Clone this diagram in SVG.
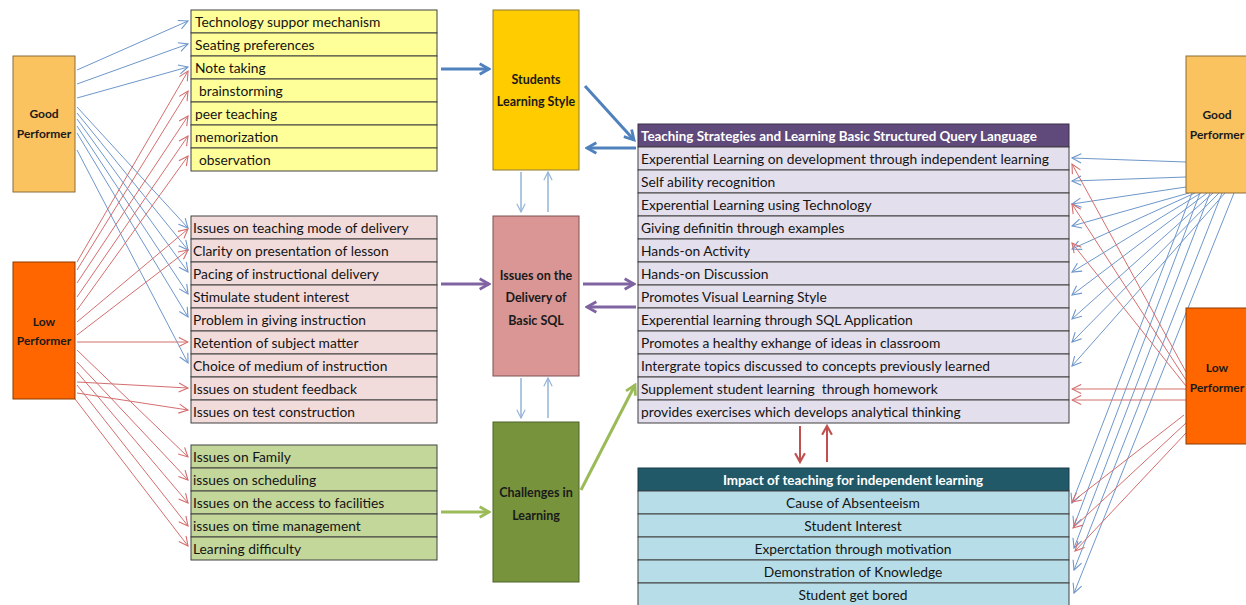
<svg xmlns="http://www.w3.org/2000/svg" width="1246" height="605" viewBox="0 0 1246 605">
  <style>
    .cell { stroke: #404040; stroke-width: 1; }
    .yl { fill: #FFFF99; }
    .pk { fill: #F2DCDB; }
    .gr { fill: #C4D79B; }
    .lv { fill: #E4DFEC; }
    .lb { fill: #B7DEE8; }
    .t { font-family: Lato, "Open Sans", sans-serif; font-size: 13.8px; fill: #141414; }
    .tc { text-anchor: middle; }
    .hd { font-family: Lato, "Open Sans", sans-serif; font-size: 13.4px; font-weight: bold; fill: #ffffff; }
    .bx { font-family: Lato, "Open Sans", sans-serif; font-size: 12.5px; font-weight: bold; fill: #1a1a1a; text-anchor: middle; }
    .pf { font-family: Lato, "Open Sans", sans-serif; font-size: 12px; font-weight: bold; fill: #1a1a1a; text-anchor: middle; }
    .thinB { stroke: #6E97CB; stroke-width: 1; fill: none; marker-end: url(#mB); }
    .thinR { stroke: #D46E6E; stroke-width: 1; fill: none; marker-end: url(#mR); }
    .lightB { stroke: #95B3D7; stroke-width: 1.5; fill: none; marker-end: url(#mL); }
    .thkB { stroke: #4F81BD; stroke-width: 3; fill: none; marker-end: url(#mTB); }
    .thkP { stroke: #8064A2; stroke-width: 3; fill: none; marker-end: url(#mTP); }
    .thkG { stroke: #9BBB59; stroke-width: 3; fill: none; marker-end: url(#mTG); }
    .thkR { stroke: #C0504D; stroke-width: 2; fill: none; marker-end: url(#mTR); }
  </style>
  <defs>
    <marker id="mB" viewBox="0 0 12 12" refX="11" refY="6" markerWidth="11" markerHeight="11" markerUnits="userSpaceOnUse" orient="auto">
      <path d="M1,1 L11,6 L1,11" fill="none" stroke="#6E97CB" stroke-width="1.2"/>
    </marker>
    <marker id="mR" viewBox="0 0 12 12" refX="11" refY="6" markerWidth="11" markerHeight="11" markerUnits="userSpaceOnUse" orient="auto">
      <path d="M1,1 L11,6 L1,11" fill="none" stroke="#D46E6E" stroke-width="1.2"/>
    </marker>
    <marker id="mL" viewBox="0 0 12 12" refX="11" refY="6" markerWidth="10" markerHeight="10" markerUnits="userSpaceOnUse" orient="auto">
      <path d="M1,1 L11,6 L1,11" fill="none" stroke="#95B3D7" stroke-width="1.4"/>
    </marker>
    <marker id="mTB" viewBox="0 0 12 12" refX="10" refY="6" markerWidth="14" markerHeight="14" markerUnits="userSpaceOnUse" orient="auto">
      <path d="M2,1.5 L10,6 L2,10.5" fill="none" stroke="#4F81BD" stroke-width="2.4"/>
    </marker>
    <marker id="mTP" viewBox="0 0 12 12" refX="10" refY="6" markerWidth="14" markerHeight="14" markerUnits="userSpaceOnUse" orient="auto">
      <path d="M2,1.5 L10,6 L2,10.5" fill="none" stroke="#8064A2" stroke-width="2.4"/>
    </marker>
    <marker id="mTG" viewBox="0 0 12 12" refX="10" refY="6" markerWidth="14" markerHeight="14" markerUnits="userSpaceOnUse" orient="auto">
      <path d="M2,1.5 L10,6 L2,10.5" fill="none" stroke="#9BBB59" stroke-width="2.4"/>
    </marker>
    <marker id="mTR" viewBox="0 0 12 12" refX="10" refY="6" markerWidth="13" markerHeight="13" markerUnits="userSpaceOnUse" orient="auto">
      <path d="M2,1.5 L10,6 L2,10.5" fill="none" stroke="#C0504D" stroke-width="2"/>
    </marker>
  </defs>

  <rect width="1246" height="605" fill="#ffffff"/>

  <!-- connectors -->
  <g id="connectors">
    <!-- left good performer to learning style items -->
    <line class="thinB" x1="77" y1="70" x2="188" y2="21"/>
    <line class="thinB" x1="77" y1="84" x2="188" y2="44"/>
    <line class="thinB" x1="77" y1="98" x2="188" y2="67"/>
    <!-- left good performer to delivery issues -->
    <line class="thinB" x1="77" y1="107" x2="188" y2="228"/>
    <line class="thinB" x1="77" y1="113" x2="188" y2="250"/>
    <line class="thinB" x1="77" y1="119" x2="188" y2="272"/>
    <line class="thinB" x1="77" y1="126" x2="188" y2="294"/>
    <line class="thinB" x1="77" y1="133" x2="188" y2="317"/>
    <line class="thinB" x1="77" y1="150" x2="188" y2="363"/>
    <!-- left low performer to learning style items -->
    <line class="thinR" x1="77" y1="262" x2="188" y2="71"/>
    <line class="thinR" x1="77" y1="270" x2="188" y2="91"/>
    <line class="thinR" x1="77" y1="283" x2="188" y2="116"/>
    <line class="thinR" x1="77" y1="297" x2="188" y2="136"/>
    <line class="thinR" x1="77" y1="310" x2="188" y2="156"/>
    <!-- left low performer to delivery issues -->
    <line class="thinR" x1="77" y1="322" x2="188" y2="229"/>
    <line class="thinR" x1="77" y1="335" x2="188" y2="250"/>
    <line class="thinR" x1="77" y1="342" x2="188" y2="342"/>
    <line class="thinR" x1="77" y1="382" x2="188" y2="388"/>
    <line class="thinR" x1="77" y1="393" x2="188" y2="410"/>
    <!-- left low performer to challenges -->
    <line class="thinR" x1="77" y1="350" x2="188" y2="457"/>
    <line class="thinR" x1="77" y1="362" x2="188" y2="480"/>
    <line class="thinR" x1="77" y1="372" x2="188" y2="503"/>
    <line class="thinR" x1="77" y1="385" x2="188" y2="526"/>
    <line class="thinR" x1="75" y1="399" x2="188" y2="546"/>

    <!-- lists into the central boxes -->
    <line class="thkB" x1="441" y1="69" x2="489" y2="69"/>
    <line class="thkP" x1="441" y1="284" x2="489" y2="284"/>
    <line class="thkG" x1="441" y1="512" x2="489" y2="512"/>

    <!-- links between central boxes -->
    <line class="lightB" x1="521" y1="172" x2="521" y2="212"/>
    <line class="lightB" x1="548" y1="212" x2="548" y2="172"/>
    <line class="lightB" x1="521" y1="378" x2="521" y2="418"/>
    <line class="lightB" x1="548" y1="418" x2="548" y2="378"/>

    <!-- central boxes to teaching strategies -->
    <line class="thkB" x1="585" y1="86" x2="634" y2="140"/>
    <line class="thkB" x1="636" y1="148" x2="587" y2="148"/>
    <line class="thkP" x1="583" y1="284" x2="634" y2="284"/>
    <line class="thkP" x1="636" y1="307" x2="587" y2="307"/>
    <line class="thkG" x1="581" y1="490" x2="635" y2="385"/>

    <!-- strategies and impact -->
    <line class="thkR" x1="800" y1="426" x2="800" y2="462"/>
    <line class="thkR" x1="827" y1="462" x2="827" y2="426"/>

    <!-- right good performer to strategies -->
    <line class="thinB" x1="1186" y1="162" x2="1072" y2="158"/>
    <line class="thinB" x1="1186" y1="177" x2="1072" y2="181"/>
    <line class="thinB" x1="1186" y1="187" x2="1072" y2="204"/>
    <line class="thinB" x1="1189" y1="193" x2="1072" y2="226"/>
    <line class="thinB" x1="1195" y1="193" x2="1072" y2="249"/>
    <line class="thinB" x1="1201" y1="193" x2="1072" y2="272"/>
    <line class="thinB" x1="1207" y1="193" x2="1072" y2="295"/>
    <line class="thinB" x1="1213" y1="193" x2="1072" y2="319"/>
    <line class="thinB" x1="1219" y1="193" x2="1072" y2="342"/>
    <line class="thinB" x1="1225" y1="193" x2="1072" y2="366"/>
    <!-- right good performer to impact -->
    <line class="thinB" x1="1192" y1="193" x2="1072" y2="503"/>
    <line class="thinB" x1="1200" y1="193" x2="1074" y2="526"/>
    <line class="thinB" x1="1210" y1="193" x2="1074" y2="548"/>
    <line class="thinB" x1="1222" y1="193" x2="1074" y2="570"/>
    <line class="thinB" x1="1234" y1="193" x2="1074" y2="593"/>
    <!-- right low performer to strategies -->
    <line class="thinR" x1="1186" y1="372" x2="1072" y2="164"/>
    <line class="thinR" x1="1186" y1="380" x2="1072" y2="204"/>
    <line class="thinR" x1="1186" y1="386" x2="1072" y2="243"/>
    <line class="thinR" x1="1186" y1="389" x2="1072" y2="389"/>
    <line class="thinR" x1="1186" y1="400" x2="1072" y2="400"/>
    <!-- right low performer to impact -->
    <line class="thinR" x1="1184" y1="415" x2="1072" y2="502"/>
    <line class="thinR" x1="1186" y1="423" x2="1073" y2="528"/>
    <line class="thinR" x1="1186" y1="433" x2="1075" y2="551"/>
  </g>

  <!-- performer boxes -->
  <g id="good-performer-left">
    <rect x="13" y="56" width="62" height="136" fill="#FAC35F" stroke="#8a6d3b" stroke-width="1"/>
    <text class="pf" x="44" y="118">Good</text>
    <text class="pf" x="44" y="138">Performer</text>
  </g>
  <g id="low-performer-left">
    <rect x="13" y="262" width="62" height="137" fill="#FF6600" stroke="#8e3a00" stroke-width="1"/>
    <text class="pf" x="44" y="326">Low</text>
    <text class="pf" x="44" y="345">Performer</text>
  </g>
  <g id="good-performer-right">
    <rect x="1186" y="56" width="64" height="137" fill="#FAC35F" stroke="#8a6d3b" stroke-width="1"/>
    <text class="pf" x="1217" y="119">Good</text>
    <text class="pf" x="1217" y="139">Performer</text>
  </g>
  <g id="low-performer-right">
    <rect x="1186" y="308" width="64" height="136" fill="#FF6600" stroke="#8e3a00" stroke-width="1"/>
    <text class="pf" x="1217" y="372">Low</text>
    <text class="pf" x="1217" y="392">Performer</text>
  </g>

  <!-- learning style items -->
  <g id="learning-style-items">
    <rect class="cell yl" x="191" y="10" width="246" height="23"/>
    <rect class="cell yl" x="191" y="33" width="246" height="23"/>
    <rect class="cell yl" x="191" y="56" width="246" height="23"/>
    <rect class="cell yl" x="191" y="79" width="246" height="23"/>
    <rect class="cell yl" x="191" y="102" width="246" height="23"/>
    <rect class="cell yl" x="191" y="125" width="246" height="23"/>
    <rect class="cell yl" x="191" y="148" width="246" height="23"/>
    <text class="t" x="195" y="27">Technology suppor mechanism</text>
    <text class="t" x="195" y="50">Seating preferences</text>
    <text class="t" x="195" y="73">Note taking</text>
    <text class="t" x="199" y="96">brainstorming</text>
    <text class="t" x="195" y="119">peer teaching</text>
    <text class="t" x="195" y="142">memorization</text>
    <text class="t" x="199" y="165">observation</text>
  </g>

  <!-- delivery issue items -->
  <g id="delivery-items">
    <rect class="cell pk" x="191" y="216" width="246" height="23"/>
    <rect class="cell pk" x="191" y="239" width="246" height="23"/>
    <rect class="cell pk" x="191" y="262" width="246" height="23"/>
    <rect class="cell pk" x="191" y="285" width="246" height="23"/>
    <rect class="cell pk" x="191" y="308" width="246" height="23"/>
    <rect class="cell pk" x="191" y="331" width="246" height="23"/>
    <rect class="cell pk" x="191" y="354" width="246" height="23"/>
    <rect class="cell pk" x="191" y="377" width="246" height="23"/>
    <rect class="cell pk" x="191" y="400" width="246" height="23"/>
    <text class="t" x="193" y="233">Issues on teaching mode of delivery</text>
    <text class="t" x="193" y="256">Clarity on presentation of lesson</text>
    <text class="t" x="193" y="279">Pacing of instructional delivery</text>
    <text class="t" x="193" y="302">Stimulate student interest</text>
    <text class="t" x="193" y="325">Problem in giving instruction</text>
    <text class="t" x="193" y="348">Retention of subject matter</text>
    <text class="t" x="193" y="371">Choice of medium of instruction</text>
    <text class="t" x="193" y="394">Issues on student feedback</text>
    <text class="t" x="193" y="417">Issues on test construction</text>
  </g>

  <!-- challenge items -->
  <g id="challenge-items">
    <rect class="cell gr" x="191" y="445" width="246" height="23"/>
    <rect class="cell gr" x="191" y="468" width="246" height="23"/>
    <rect class="cell gr" x="191" y="491" width="246" height="23"/>
    <rect class="cell gr" x="191" y="514" width="246" height="23"/>
    <rect class="cell gr" x="191" y="537" width="246" height="23"/>
    <text class="t" x="193" y="462">Issues on Family</text>
    <text class="t" x="193" y="485">issues on scheduling</text>
    <text class="t" x="193" y="508">Issues on the access to facilities</text>
    <text class="t" x="193" y="531">issues on time management</text>
    <text class="t" x="193" y="554">Learning difficulty</text>
  </g>

  <!-- central boxes -->
  <g id="students-learning-style">
    <rect x="493" y="10" width="86" height="160" fill="#FFCC00" stroke="#8c7a30" stroke-width="1"/>
    <text class="bx" x="536" y="84">Students</text>
    <text class="bx" x="536" y="106">Learning Style</text>
  </g>
  <g id="delivery-of-basic-sql">
    <rect x="493" y="216" width="86" height="160" fill="#D99694" stroke="#7d5050" stroke-width="1"/>
    <text class="bx" x="536" y="280">Issues on the</text>
    <text class="bx" x="536" y="302">Delivery of</text>
    <text class="bx" x="536" y="325">Basic SQL</text>
  </g>
  <g id="challenges-in-learning">
    <rect x="493" y="422" width="86" height="160" fill="#77933C" stroke="#4f6228" stroke-width="1"/>
    <text class="bx" x="536" y="497">Challenges in</text>
    <text class="bx" x="536" y="520">Learning</text>
  </g>

  <!-- teaching strategies table -->
  <g id="teaching-strategies">
    <rect x="638" y="124" width="431" height="23" fill="#604A7B" stroke="#3a2d4a" stroke-width="1"/>
    <text class="hd" x="641" y="141">Teaching Strategies and Learning Basic Structured Query Language</text>
    <rect class="cell lv" x="638" y="147" width="431" height="23"/>
    <rect class="cell lv" x="638" y="170" width="431" height="23"/>
    <rect class="cell lv" x="638" y="193" width="431" height="23"/>
    <rect class="cell lv" x="638" y="216" width="431" height="23"/>
    <rect class="cell lv" x="638" y="239" width="431" height="23"/>
    <rect class="cell lv" x="638" y="262" width="431" height="23"/>
    <rect class="cell lv" x="638" y="285" width="431" height="23"/>
    <rect class="cell lv" x="638" y="308" width="431" height="23"/>
    <rect class="cell lv" x="638" y="331" width="431" height="23"/>
    <rect class="cell lv" x="638" y="354" width="431" height="23"/>
    <rect class="cell lv" x="638" y="377" width="431" height="23"/>
    <rect class="cell lv" x="638" y="400" width="431" height="23"/>
    <text class="t" x="641" y="164">Experential Learning on development through independent learning</text>
    <text class="t" x="641" y="187">Self ability recognition</text>
    <text class="t" x="641" y="210">Experential Learning using Technology</text>
    <text class="t" x="641" y="233">Giving definitin through examples</text>
    <text class="t" x="641" y="256">Hands-on Activity</text>
    <text class="t" x="641" y="279">Hands-on Discussion</text>
    <text class="t" x="641" y="302">Promotes Visual Learning Style</text>
    <text class="t" x="641" y="325">Experential learning through SQL Application</text>
    <text class="t" x="641" y="348">Promotes a healthy exhange of ideas in classroom</text>
    <text class="t" x="641" y="371">Intergrate topics discussed to concepts previously learned</text>
    <text class="t" x="641" y="394" xml:space="preserve">Supplement student learning  through homework</text>
    <text class="t" x="641" y="417">provides exercises which develops analytical thinking</text>
  </g>

  <!-- impact table -->
  <g id="impact">
    <rect x="638" y="468" width="431" height="23" fill="#215968" stroke="#173f4a" stroke-width="1"/>
    <text class="hd tc" x="853" y="485">Impact of teaching for independent learning</text>
    <rect class="cell lb" x="638" y="491" width="431" height="23"/>
    <rect class="cell lb" x="638" y="514" width="431" height="23"/>
    <rect class="cell lb" x="638" y="537" width="431" height="23"/>
    <rect class="cell lb" x="638" y="560" width="431" height="23"/>
    <rect class="cell lb" x="638" y="583" width="431" height="23"/>
    <text class="t tc" x="853" y="508">Cause of Absenteeism</text>
    <text class="t tc" x="853" y="531">Student Interest</text>
    <text class="t tc" x="853" y="554">Experctation through motivation</text>
    <text class="t tc" x="853" y="577">Demonstration of Knowledge</text>
    <text class="t tc" x="853" y="600">Student get bored</text>
  </g>
</svg>
